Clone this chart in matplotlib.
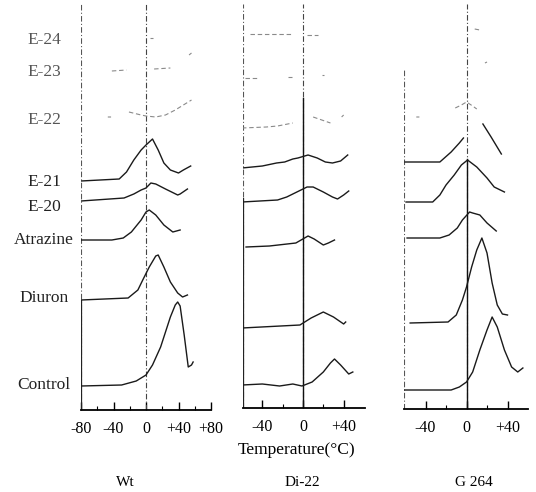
import numpy as np
import matplotlib
matplotlib.use('Agg')
from matplotlib import pyplot as plt

nan = np.nan

samples = ['Control', 'Diuron', 'Atrazine', 'E-20', 'E-21', 'E-22', 'E-23', 'E-24']
faint = ['E-22', 'E-23', 'E-24']
panel_names = ['Wt', 'Di-22', 'G 264']

# glow curves: temperature (C), TL signal above the curve's own baseline
wt = {
    'Control': ([-80, -30, -12, 0, 8, 18, 24, 30, 36, 39, 42, 47, 52, 56, 58],
                [0, 1, 5, 11, 21, 39, 54, 69, 81, 84, 80, 51, 19, 21, 24]),
    'Diuron': ([-80, -22, -10, -4, 4, 12, 15, 22, 30, 39, 45, 51],
               [0, 2, 10, 20, 33, 44, 45, 33, 18, 7, 3, 5]),
    'Atrazine': ([-80, -42, -28, -18, -6, 0, 4, 12, 22, 33, 42],
                 [0, 0, 2, 8, 20, 28, 30, 25, 15, 8, 10]),
    'E-20': ([-80, -27, -15, -6, 0, 6, 12, 24, 39, 42, 51],
             [0, 3, 7, 11, 13, 18, 17, 12, 6, 7, 12]),
    'E-21': ([-80, -33, -24, -15, -6, 0, 8, 15, 22, 30, 40, 46, 55],
             [0, 2, 9, 21, 31, 36, 42, 31, 18, 11, 8, 11, 15]),
    'E-22': ([-47, -43, nan, -21, -6, 0, 12, 24, 36, 46, 56],
             [1, 1, nan, 6, 3, 2, 1, 3, 8, 13, 18]),
    'E-23': ([-42, -24, nan, 10, 30, nan, 53, 56],
             [0, 1, nan, 2, 3, nan, 16, 18]),
    'E-24': ([5, 9], [0, 0]),
}

di22 = {
    'Control': ([-60, -40, -23, -10, -1, 9, 20, 27, 31, 37, 45, 49],
                [0, 1, -1, 1, -1, 3, 13, 22, 26, 20, 11, 13]),
    'Diuron': ([-60, -3, 8, 20, 30, 40, 42],
               [0, 3, 10, 16, 11, 4, 6]),
    'Atrazine': ([-56, -33, -7, 5, 11, 20, 25, 31],
                 [0, 1, 4, 11, 8, 2, 4, 7]),
    'E-20': ([-60, -25, -16, -8, 4, 10, 20, 29, 34, 40, 45],
             [0, 2, 5, 9, 15, 15, 10, 5, 3, 7, 11]),
    'E-21': ([-60, -40, -26, -18, -10, -5, 5, 14, 22, 29, 37, 44],
             [0, 2, 5, 6, 9, 10, 13, 10, 6, 5, 7, 13]),
    'E-22': ([-60, -36, -25, -10, nan, 10, 27, nan, 38, 40],
             [0, 1, 2, 5, nan, 11, 5, nan, 11, 13]),
    'E-23': ([-57, -45, nan, -15, -11, nan, 19, 21],
             [0, 0, nan, 1, 1, nan, 3, 3]),
    'E-24': ([-52, -11, nan, 4, 15],
             [0, 0, nan, -1, -1]),
}

g264 = {
    'Control': ([-61, -15, -7, 0, 6, 13, 20, 25, 30, 37, 44, 50, 55],
                [0, 0, 3, 8, 18, 40, 60, 73, 63, 40, 23, 18, 22]),
    'Diuron': ([-55, -18, -10, -4, 0, 5, 10, 15, 20, 25, 30, 35, 40],
               [0, 1, 8, 23, 36, 56, 73, 85, 70, 40, 18, 9, 8]),
    'Atrazine': ([-58, -26, -17, -9, -4, 3, 6, 13, 20, 29],
                 [0, 0, 3, 10, 18, 26, 25, 23, 15, 7]),
    'E-20': ([-59, -33, -26, -20, -12, -5, 1, 10, 20, 27, 37],
             [0, 0, 7, 17, 27, 37, 42, 35, 24, 15, 10]),
    'E-21': ([-60, -26, -15, -7, -3, nan, 16, 24, 34],
             [0, 0, 10, 19, 24, nan, 38, 25, 8]),
    'E-22': ([-49, -46, nan, -11, -5, 0, 6, 10],
             [0, 0, nan, 9, 12, 15, 11, 8]),
    'E-23': ([18, 20], [0, 1]),
    'E-24': ([8, 13], [1, 0]),
}

# vertical stacking of the curves (offsets, in px above the x axis)
offsets = [
    dict(zip(samples, [24, 110, 170, 209, 229, 292, 339, 372])),
    dict(zip(samples, [23, 80, 161, 206, 240, 280, 330, 374])),
    dict(zip(samples, [19, 86, 171, 207, 247, 292, 346, 379])),
]

W, H = 536, 492
fig = plt.figure(figsize=(W / 100, H / 100), dpi=100)
plt.rcParams['font.family'] = ['Liberation Serif', 'DejaVu Serif']

# axes boxes in pixels: left, right, bottom(y of x-axis), xlim
boxes = [(81, 211, 410, (-80, 80)),
         (243, 365, 408, (-59, 61)),
         (404, 528, 409, (-61, 60))]
left_top = [1.0, 1.0, 0.84]
solid_zero = [0, 310, 250]
solid_left = [110, 210, 0]
name_x = [125, 302, 474]
ticks = [[-80, -40, 0, 40, 80], [-40, 0, 40], [-40, 0, 40]]
minor = [[-60, -20, 20, 60], [-20, 20], [-20, 20]]

for i, (data, off) in enumerate(zip([wt, di22, g264], offsets)):
    x0, x1, yb, xlim = boxes[i]
    ax = fig.add_axes([x0 / W, (H - yb) / H, (x1 - x0) / W, (yb - 4) / H])
    ax.set_xlim(*xlim)
    ax.set_ylim(0, yb - 4)
    for s in ['top', 'right', 'left']:
        ax.spines[s].set_visible(False)
    ax.spines['bottom'].set_linewidth(1.3)
    ax.set_yticks([])

    ax.axvline(xlim[0], color='#555', lw=0.8, ls=(0, (5, 2, 1, 2)), ymin=0, ymax=left_top[i])
    if solid_left[i]:
        ax.plot([xlim[0]] * 2, [0, solid_left[i]], color='#222', lw=0.9)
    ax.axvline(0, color='#444', lw=0.8, ls=(0, (5, 2, 1, 2)))
    if solid_zero[i]:
        ax.plot([0, 0], [0, solid_zero[i]], color='#111', lw=1.0)

    for name in samples:
        t, h = data[name]
        y = off[name] + np.array(h, dtype=float)
        if name in faint:
            ax.plot(t, y, color='#8a8a8a', lw=0.8, ls=(0, (4, 2.5)))
        else:
            ax.plot(t, y, color='#1a1a1a', lw=1.0)

    ax.set_xticks(ticks[i])
    ax.set_xticklabels(['+%d' % v if v > 0 else '%d' % v for v in ticks[i]], fontsize=11.5)
    ax.set_xticks(minor[i], minor=True)
    ax.tick_params(axis='x', which='major', direction='in', length=6, width=1, pad=8)
    ax.tick_params(axis='x', which='minor', direction='in', length=3, width=0.8)

    fig.text(name_x[i] / W, 1 - 483 / H, panel_names[i], ha='center', va='center', fontsize=11)

fig.text(297 / W, 1 - 450 / H, 'Temperature(\u00b0C)', ha='center', va='center', fontsize=12.5)

# row labels on the left
label_y = [385, 298, 240, 207, 182, 120, 72, 40]
for name, ly in zip(samples, label_y):
    fig.text(44 / W, 1 - ly / H, name, ha='center', va='center', fontsize=12.5,
             color='#222' if name not in faint else '#555')

fig.savefig('out.png', dpi=100)
